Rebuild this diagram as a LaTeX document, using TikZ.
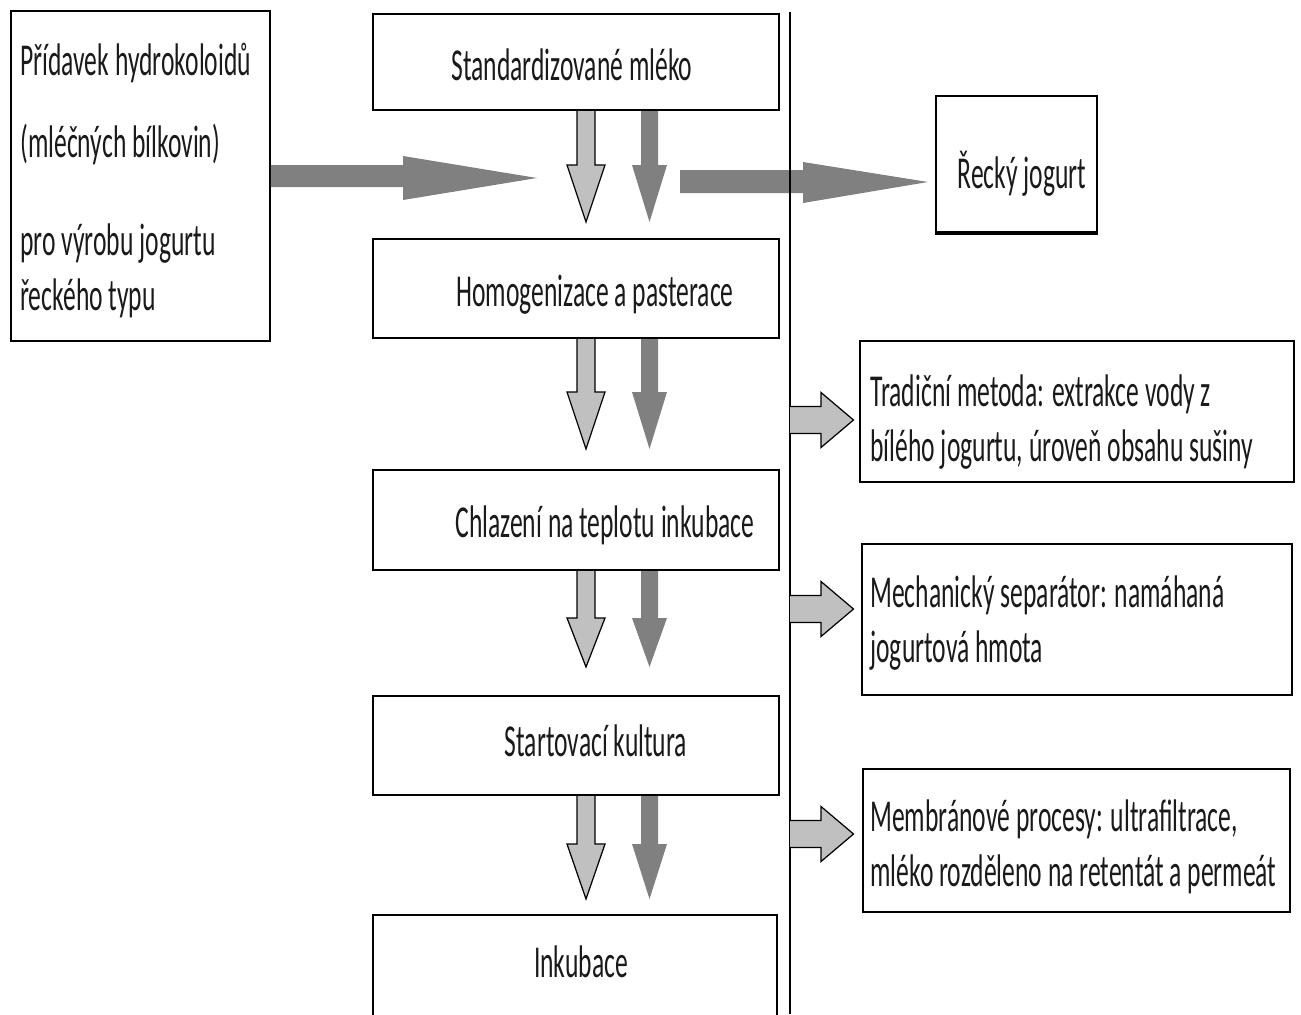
\documentclass[tikz,border=0pt]{standalone}
\usepackage{fontspec}
\setmainfont[FakeStretch=0.56]{Carlito}
\definecolor{txt}{HTML}{1A1A1A}
\definecolor{darkarr}{HTML}{808080}
\definecolor{lightarr}{HTML}{C0C0C0}
\begin{document}
\begin{tikzpicture}[
    box/.style={draw=black, line width=1.1pt, inner sep=0pt},
    lbl/.style={text=txt, inner sep=0pt, font=\fontsize{26}{31.3}\selectfont},
    lightarrow/.style={fill=lightarr, draw=black, line width=0.7pt, line join=miter},
    darkarrow/.style={fill=darkarr}
]
    \begin{scope}[x=0.02cm,y=-0.02cm]
        \useasboundingbox (0,0) rectangle (1301,1014);
        % arrows down the main column
        \foreach \top/\head/\tip in {110/165/222, 338/392/449, 570/618/667, 795/844/899} {
            \filldraw[lightarrow] (577,\top) -- (577,\head) -- (567,\head) -- (586,\tip)
                -- (605,\head) -- (595,\head) -- (595,\top);
            \fill[darkarrow] (641,\top) -- (641,\head) -- (632,\head) -- (649.5,\tip)
                -- (667,\head) -- (658,\head) -- (658,\top) -- cycle;
        }
        % main column
        \node[box, minimum width=8.12cm, minimum height=1.92cm] (mleko) at (576,62) {};
        \node[box, minimum width=8.12cm, minimum height=1.98cm] (homog) at (576,288.5) {};
        \node[box, minimum width=8.12cm, minimum height=2.00cm] (chlaz) at (576,520) {};
        \node[box, minimum width=8.12cm, minimum height=1.98cm] (start) at (576,745.5) {};
        \draw[line width=1.1pt] (373,1030) |- (777,915) -- (777,1030);
        \node[lbl, anchor=base] (mleko-t) at (572,80) {Standardizované mléko};
        \node[lbl, anchor=base] (homog-t) at (595,306) {Homogenizace a pasterace};
        \node[lbl, anchor=base] (chlaz-t) at (605,537) {Chlazení na teplotu inkubace};
        \node[lbl, anchor=base] (start-t) at (596,756) {Startovací kultura};
        \node[lbl, anchor=base] (inkub-t) at (581,977) {Inkubace};
        % addition box on the left
        \node[box, minimum width=5.18cm, minimum height=6.6cm] (pridavek) at (140.5,176) {};
        \node[lbl, anchor=base west] (prid-1) at (20,75) {Přídavek hydrokoloidů};
        \node[lbl, anchor=base west] (prid-2) at (20,157) {(mléčných bílkovin)};
        \node[lbl, anchor=base west] (prid-3) at (20,255) {pro výrobu jogurtu};
        \node[lbl, anchor=base west] (prid-4) at (20,310) {řeckého typu};
        \fill[darkarrow] (pridavek.east |- 0,165) -- (403,165) -- (403,156) -- (537,178)
            -- (403,200) -- (403,187) -- (pridavek.east |- 0,187) -- cycle;
        % greek yoghurt
        \fill[darkarrow] (680,170) -- (803,170) -- (803,162) -- (928,182)
            -- (803,203) -- (803,193) -- (680,193) -- cycle;
        \node[box, minimum width=3.22cm, minimum height=2.72cm] (recky) at (1016.5,164) {};
        \draw[line width=2.4pt] (recky.south west) -- (recky.south east);
        \node[lbl, anchor=base] (recky-t) at (1022,188) {Řecký jogurt};
        % separator line
        \draw[line width=0.9pt] (790,12) -- (790,1014);
        % methods
        \foreach \mid in {420, 609, 834} {
            \filldraw[lightarrow] (790,\mid-13.5) -- (821,\mid-13.5) -- (821,\mid-27.5)
                -- (853.5,\mid) -- (821,\mid+27.5) -- (821,\mid+13.5) -- (790,\mid+13.5);
        }
        \node[box, minimum width=8.68cm, minimum height=2.82cm] (tradicni) at (1077,411.5) {};
        \node[box, minimum width=8.60cm, minimum height=3.02cm] (mechan) at (1077,619.5) {};
        \node[box, minimum width=8.54cm, minimum height=2.86cm] (membran) at (1076.5,840.5) {};
        \node[lbl, anchor=base west, align=left] (tradicni-t) at (870,461)
            {Tradiční metoda: extrakce vody z\\bílého jogurtu, úroveň obsahu sušiny};
        \node[lbl, anchor=base west, align=left] (mechan-t) at (870,662)
            {Mechanický separátor: namáhaná\\jogurtová hmota};
        \node[lbl, anchor=base west, align=left] (membran-t) at (870,886)
            {Membránové procesy: ultrafiltrace,\\mléko rozděleno na retentát a permeát};
    \end{scope}
\end{tikzpicture}
\end{document}
